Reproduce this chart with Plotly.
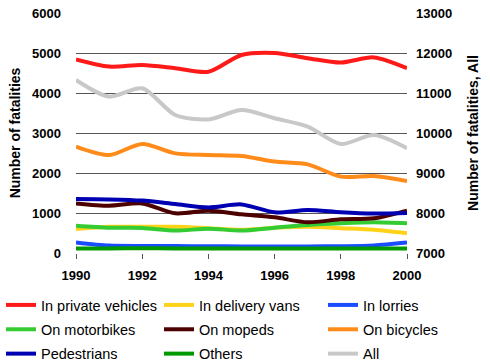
import plotly.graph_objects as go

years = list(range(1990, 2001))
private_vehicles = [4840, 4660, 4700, 4620, 4530, 4950, 5000, 4870, 4760, 4890, 4620]
delivery_vans = [600, 655, 655, 655, 620, 580, 630, 655, 620, 580, 495]
lorries = [265, 185, 175, 175, 168, 165, 165, 165, 170, 190, 262]
motorbikes = [683, 633, 628, 560, 608, 560, 633, 700, 742, 767, 742]
mopeds = [1240, 1183, 1240, 992, 1058, 967, 892, 767, 842, 867, 1058]
bicycles = [2660, 2450, 2725, 2490, 2450, 2425, 2285, 2215, 1910, 1925, 1800]
pedestrians = [1350, 1340, 1310, 1225, 1140, 1215, 1017, 1075, 1017, 985, 1000]
others = [115, 115, 118, 115, 115, 112, 115, 115, 115, 115, 115]
all_fat = [11325, 10910, 11117, 10450, 10340, 10575, 10370, 10160, 9725, 9950, 9620]

series = [
    ("In private vehicles", private_vehicles, "#ff1a1a", "y", "legend"),
    ("In delivery vans", delivery_vans, "#ffd21a", "y", "legend2"),
    ("In lorries", lorries, "#1a4dff", "y", "legend3"),
    ("On motorbikes", motorbikes, "#33cc33", "y", "legend"),
    ("On mopeds", mopeds, "#4d0000", "y", "legend2"),
    ("On bicycles", bicycles, "#ff8c1a", "y", "legend3"),
    ("Pedestrians", pedestrians, "#0000b3", "y", "legend"),
    ("Others", others, "#009900", "y", "legend2"),
    ("All", all_fat, "#c8c8c8", "y2", "legend3"),
]

fig = go.Figure()
for i, (name, vals, col, ax, lg) in enumerate(series):
    fig.add_trace(go.Scatter(
        x=years, y=vals, name=name, mode="lines", yaxis=ax, legend=lg,
        legendgroup=f"g{i}",
        line=dict(color=col, width=4, shape="spline", smoothing=0.8),
    ))

font = "Liberation Sans, Arial, sans-serif"
PL, PW, PB, PH = 76, 331, 253, 240
legend_common = dict(
    orientation="v", xref="paper", yref="paper",
    xanchor="left", yanchor="top", y=(PB - 289) / PH,
    font=dict(size=14.5, family=font, color="black"),
    bgcolor="rgba(0,0,0,0)", itemwidth=30, tracegroupgap=2.5,
)
fig.update_layout(
    width=490, height=363,
    margin=dict(l=PL, r=83, t=13, b=110, autoexpand=False),
    paper_bgcolor="white", plot_bgcolor="white",
    font=dict(family=font, color="black"),
    showlegend=True,
    legend=dict(legend_common, x=(1 - PL) / PW),
    legend2=dict(legend_common, x=(159 - PL) / PW),
    legend3=dict(legend_common, x=(323 - PL) / PW),
    xaxis=dict(
        range=[1990, 2000], tickvals=[1990, 1992, 1994, 1996, 1998, 2000],
        showgrid=False, zeroline=False, showline=False,
        ticks="outside", ticklen=5, tickcolor="#555", ticklabelstandoff=5,
        tickfont=dict(size=13, family=font, weight="bold"),
    ),
    yaxis=dict(
        range=[0, 6000], dtick=1000, showgrid=True, gridcolor="#555", gridwidth=1,
        zeroline=False, showline=False, ticks="", ticklabelstandoff=14,
        tickformat="d",
        tickfont=dict(size=13, family=font, weight="bold"),
        title=dict(text="Number of fatalities", font=dict(size=14, family=font, weight="bold"), standoff=8),
    ),
    yaxis2=dict(
        range=[7000, 13000], dtick=1000, overlaying="y", side="right",
        showgrid=False, zeroline=False, showline=False, ticks="", ticklabelstandoff=8,
        tickformat="d",
        tickfont=dict(size=13, family=font, weight="bold"),
        title=dict(text="Number of fatalities, All", font=dict(size=14, family=font, weight="bold"), standoff=17),
    ),
)

fig.write_html("out.html", config={"displayModeBar": False},
               post_script="document.body.style.margin='0';")
